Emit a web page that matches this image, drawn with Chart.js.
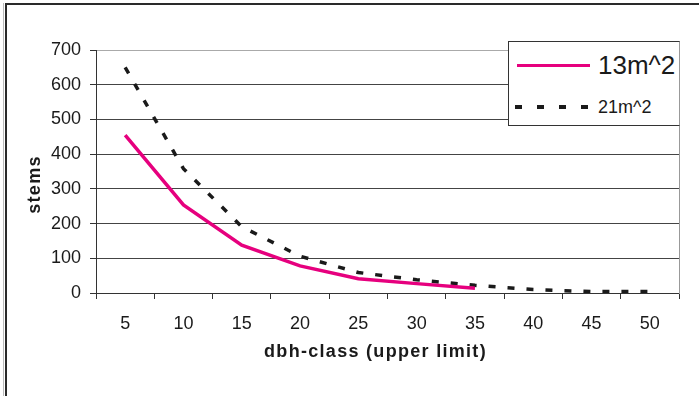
<!DOCTYPE html>
<html>
<head>
<meta charset="utf-8">
<script src="https://cdn.jsdelivr.net/npm/chart.js@4/dist/chart.umd.min.js"></script>
<style>
  html, body { margin:0; padding:0; background:#fff; }
  #wrap { position:relative; width:699px; height:396px; overflow:hidden; font-family:"Liberation Sans", Arial, sans-serif; }
  #frame { position:absolute; left:5px; top:3px; width:700px; height:391px; border-top:2px solid #2a2a2a; border-left:2px solid #2a2a2a; border-bottom:1px solid #999; pointer-events:none; }
  #edge { position:absolute; left:3px; top:3px; width:1px; height:393px; background:#bbb; }
  #legend { position:absolute; left:508px; top:41px; width:170px; height:83px; background:#fff; border:1px solid #333; border-right-color:#999; }
  .row { position:absolute; left:0; display:flex; align-items:center; color:#1a1a1a; }
  .swatch { width:73px; margin-left:8px; margin-right:8px; }
</style>
</head>
<body>
<div id="wrap">
  <canvas id="chart" width="699" height="396"></canvas>
  <div id="edge"></div>
  <div id="frame"></div>
  <div id="legend">
    <div class="row" style="top:8px;height:30px;">
      <div class="swatch" style="height:3px;background:#e6007e;"></div>
      <span style="font-size:26px;">13m^2</span>
    </div>
    <div class="row" style="top:54px;height:22px;">
      <div class="swatch" style="margin-left:6px;margin-right:10px;height:4px;background:repeating-linear-gradient(90deg,#1a1a1a 0 7px,transparent 7px 22px);"></div>
      <span style="font-size:18px;">21m^2</span>
    </div>
  </div>
</div>
<script>
  // values
  const classes = ['5','10','15','20','25','30','35','40','45','50'];
  const stems13 = [455, 254, 138, 78, 41, 27, 14, null, null, null];
  const stems21 = [650, 358, 191, 106, 59, 38, 22, 10, 4, 4];
  const yTicks = [0, 100, 200, 300, 400, 500, 600, 700];

  const tickFont = { family:'"Liberation Sans", Arial, sans-serif', size:18 };
  const titleFont = { family:'"Liberation Sans", Arial, sans-serif', size:18, weight:'bold' };

  // titles in the original are spaced out and sit a bit off-centre
  const titleShift = { x:[-12, 0], y:[0, 13] };
  const wideTitles = {
    id:'wideTitles',
    afterUpdate(chart){
      ['x','y'].forEach(id=>{
        const sc = chart.scales[id];
        if(!sc || sc._patched) return;
        const orig = sc.drawTitle.bind(sc);
        sc.drawTitle = function(){
          const ctx = this.ctx;
          ctx.save();
          ctx.letterSpacing = '1.3px';
          ctx.translate(titleShift[id][0], titleShift[id][1]);
          orig();
          ctx.restore();
        };
        sc._patched = true;
      });
    }
  };

  new Chart(document.getElementById('chart'), {
    type: 'line',
    data: {
      labels: classes,
      datasets: [
        { label:'13m^2', data:stems13, borderColor:'#e6007e', borderWidth:3.5, pointRadius:0, tension:0, spanGaps:false },
        { label:'21m^2', data:stems21, borderColor:'#1a1a1a', borderWidth:3.5, borderDash:[7,12], pointRadius:0, tension:0 }
      ]
    },
    options: {
      responsive:false,
      animation:false,
      events:[],
      layout:{ padding:{ top:50, left:0, right:0, bottom:0 } },
      plugins:{ legend:{ display:false }, tooltip:{ enabled:false } },
      scales:{
        x:{
          offset:true,
          grid:{ offset:true, drawOnChartArea:false, drawTicks:true, tickLength:6, tickColor:'#333', lineWidth:1 },
          border:{ color:'#333', width:1 },
          ticks:{ font:tickFont, color:'#1a1a1a', padding:14, maxRotation:0 },
          title:{ display:true, text:'dbh-class (upper limit)', font:titleFont, color:'#1a1a1a', padding:{ top:0, bottom:33 } },
          afterFit:(s)=>{ s.height = 103; }
        },
        y:{
          min:0, max:700,
          afterBuildTicks:(s)=>{ s.ticks = yTicks.map(v=>({ value:v })); },
          grid:{ color:(c)=> c.tick && c.tick.value===700 ? '#aaa' : '#444', tickColor:'#333', tickLength:6, lineWidth:1 },
          border:{ color:'#333', width:1 },
          ticks:{ font:tickFont, color:'#1a1a1a', padding:9 },
          title:{ display:true, text:'stems', font:titleFont, color:'#1a1a1a', padding:{ top:24, bottom:0 } },
          afterFit:(s)=>{ s.width = 96; }
        },
        y2:{
          position:'right',
          grid:{ drawOnChartArea:false, drawTicks:false },
          border:{ color:'#999', width:1 },
          ticks:{ display:false },
          afterFit:(s)=>{ s.width = 20; }
        }
      }
    },
    plugins:[wideTitles]
  });
</script>
</body>
</html>
